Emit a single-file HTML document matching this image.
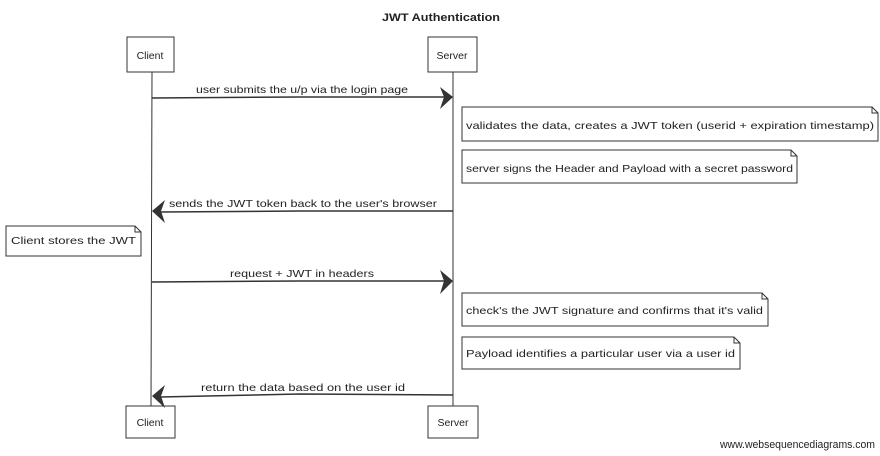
<!DOCTYPE html>
<html><head><meta charset="utf-8"><style>
html,body{margin:0;padding:0;background:#fff;}
svg{display:block}
text{font-family:"Liberation Sans",sans-serif;font-size:10.5px;fill:#222}
</style></head><body>
<svg width="880" height="456" viewBox="0 0 880 456" xmlns="http://www.w3.org/2000/svg">
<g stroke="#333" fill="none" stroke-width="1">
  <!-- lifelines -->
  <line x1="152" y1="72" x2="151" y2="406"/>
  <line x1="453" y1="72" x2="453" y2="406"/>
  <!-- participant boxes -->
  <rect x="127" y="37" width="47" height="35" fill="#fff"/>
  <rect x="428" y="37" width="49" height="35" fill="#fff"/>
  <rect x="126" y="406" width="49" height="32" fill="#fff"/>
  <rect x="428" y="406" width="50" height="32" fill="#fff"/>
  <!-- arrows -->
  <path d="M152 98 L300 97 L445 97" stroke-width="1.5"/>
  <path d="M453 211 L300 211 L160 212" stroke-width="1.5"/>
  <path d="M152 282 L300 281 L445 281" stroke-width="1.5"/>
  <path d="M453 395 L300 394 L160 397" stroke-width="1.5"/>
  <!-- notes -->
  <path d="M462 107 L872 107 L878 113 L878 141 L462 141 Z" fill="#fff"/>
  <path d="M872 107 L872 113 L878 113"/>
  <path d="M462 150 L791 150 L797 156 L797 183 L462 183 Z" fill="#fff"/>
  <path d="M791 150 L791 156 L797 156"/>
  <path d="M6 226 L135 226 L141 232 L141 256 L6 256 Z" fill="#fff"/>
  <path d="M135 226 L135 232 L141 232"/>
  <path d="M462 293 L762 293 L768 299 L768 326 L462 326 Z" fill="#fff"/>
  <path d="M762 293 L762 299 L768 299"/>
  <path d="M462 337 L734 337 L740 343 L740 369 L462 369 Z" fill="#fff"/>
  <path d="M734 337 L734 343 L740 343"/>
</g>
<g fill="#333" stroke="none">
  <path d="M453 97 L440 87 L444 97 L440 109 Z"/>
  <path d="M152 211 L165 200 L161 211 L165 223 Z"/>
  <path d="M453 281 L440 270 L444 281 L440 294 Z"/>
  <path d="M152 396 L165 385 L161 396 L165 408 Z"/>
</g>
<text x="441" y="21" text-anchor="middle" font-weight="bold" style="font-size:11px" textLength="118" lengthAdjust="spacingAndGlyphs">JWT Authentication</text>
<text x="150" y="59" text-anchor="middle">Client</text>
<text x="452" y="59" text-anchor="middle">Server</text>
<text x="150" y="426" text-anchor="middle">Client</text>
<text x="453" y="426" text-anchor="middle">Server</text>
<text x="196" y="93" textLength="212" lengthAdjust="spacingAndGlyphs">user submits the u/p via the login page</text>
<text x="466" y="129" textLength="408" lengthAdjust="spacingAndGlyphs">validates the data, creates a JWT token (userid + expiration timestamp)</text>
<text x="466" y="172" textLength="327" lengthAdjust="spacingAndGlyphs">server signs the Header and Payload with a secret password</text>
<text x="169" y="207" textLength="268" lengthAdjust="spacingAndGlyphs">sends the JWT token back to the user's browser</text>
<text x="11" y="244" textLength="125" lengthAdjust="spacingAndGlyphs">Client stores the JWT</text>
<text x="230" y="277" textLength="144" lengthAdjust="spacingAndGlyphs">request + JWT in headers</text>
<text x="466" y="314" textLength="297" lengthAdjust="spacingAndGlyphs">check's the JWT signature and confirms that it's valid</text>
<text x="466" y="357" textLength="269" lengthAdjust="spacingAndGlyphs">Payload identifies a particular user via a user id</text>
<text x="201" y="391" textLength="204" lengthAdjust="spacingAndGlyphs">return the data based on the user id</text>
<text x="720" y="448" style="font-size:11px" textLength="155" lengthAdjust="spacingAndGlyphs">www.websequencediagrams.com</text>
</svg>
</body></html>
